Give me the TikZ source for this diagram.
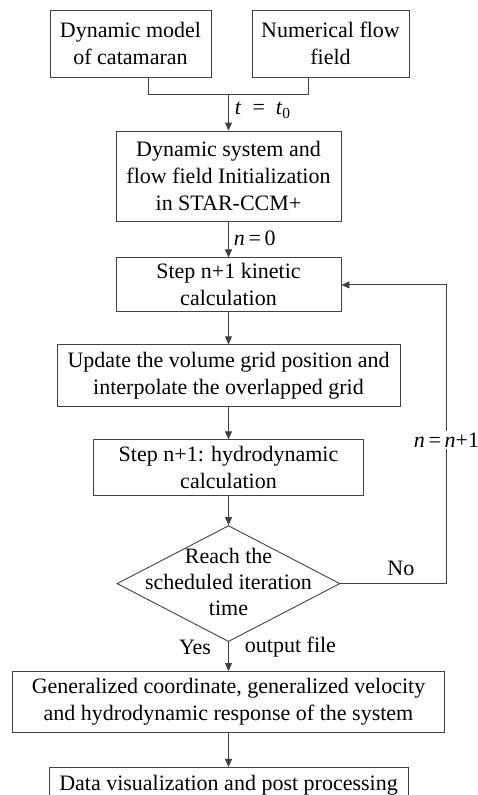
\documentclass[tikz,border=0pt]{standalone}
\usepackage{fontspec}
\setmainfont{Liberation Serif}
\usetikzlibrary{arrows.meta,positioning,calc,shapes.geometric}

\begin{document}
\begin{tikzpicture}[x=1pt,y=-1pt,
  node distance=32pt,
  box/.style={draw=black!75,line width=0.9pt,align=center,inner sep=2pt,font=\fontsize{22}{27}\selectfont},
  decision/.style={draw=black!75,line width=0.9pt,diamond,minimum width=223pt,minimum height=116pt,inner sep=0pt},
  lbl/.style={font=\fontsize{22}{26}\selectfont,inner sep=1pt},
  arrow/.style={-{Triangle[length=8pt,width=7pt]},draw=black!75,line width=0.9pt},
  line/.style={draw=black!75,line width=0.9pt}
]
\useasboundingbox (0,0) rectangle (478,795);
\node[box,minimum width=161pt,minimum height=67pt] (model) at (130.5,43.5) {Dynamic model\\of catamaran};
\node[box,minimum width=157pt,minimum height=67pt] (field) at (330.5,43.5) {Numerical flow\\field};
\node[box,minimum width=225pt,minimum height=90pt] (init) at (228.5,176) {Dynamic system and\\flow field Initialization\\in STAR-CCM+};
\node[box,minimum width=225pt,minimum height=54pt,below=36pt of init] (kinetic) {Step n+1 kinetic\\calculation};
\node[box,minimum width=343pt,minimum height=62pt,below=32pt of kinetic] (update) {Update the volume grid position and\\interpolate the overlapped grid};
\node[box,minimum width=270pt,minimum height=56pt,below=32pt of update] (hydro) {Step n+1: hydrodynamic\\calculation};
\node[decision,below=29pt of hydro,
  label={[lbl,align=center,yshift=2pt]center:Reach the\\scheduled iteration\\time}] (check) {};
\node[box,minimum width=432pt,minimum height=61pt,below=29pt of check] (result) {Generalized coordinate, generalized velocity\\and hydrodynamic response of the system};
\node[box,minimum width=359pt,minimum height=36pt,below=34pt of result] (post) {Data visualization and post processing};

% merge of the two inputs
\coordinate (joinL) at ($(model.south)+(17.5pt,0)$);
\coordinate (joinR) at ($(field.south)+(-22.5pt,0)$);
\coordinate (join) at ($(init.north)+(0,36pt)$);
\draw[line] (joinL) -- (joinL |- join) -| (joinR);
\draw[arrow] (join) -- node[lbl,pos=0.44,anchor=west,xshift=5pt] {\textit{t}\enspace=\enspace\textit{t}\textsubscript{0}} (init.north);

\draw[arrow] (init) -- node[lbl,pos=0.47,anchor=west,xshift=4pt] {\textit{n}\,=\,0} (kinetic);
\draw[arrow] (kinetic) -- (update);
\draw[arrow] (update) -- (hydro);
\draw[arrow] (hydro) -- (check);

% iteration loop
\coordinate (loop) at ($(check.east)+(106pt,0)$);
\draw[arrow] (check.east) -- node[lbl,pos=0.57,above=6pt] {No} (loop)
  |- node[lbl,pos=0.24,fill=white,inner sep=2pt] {\textit{n}\,=\,\textit{n}+1} (kinetic.east);

\draw[arrow] (check.south) -- node[lbl,pos=0.2,anchor=east,xshift=-16pt] {Yes}
  node[lbl,pos=0.17,anchor=west,xshift=15pt] {output file} (result.north);
\draw[arrow] (result) -- (post);
\end{tikzpicture}
\end{document}
